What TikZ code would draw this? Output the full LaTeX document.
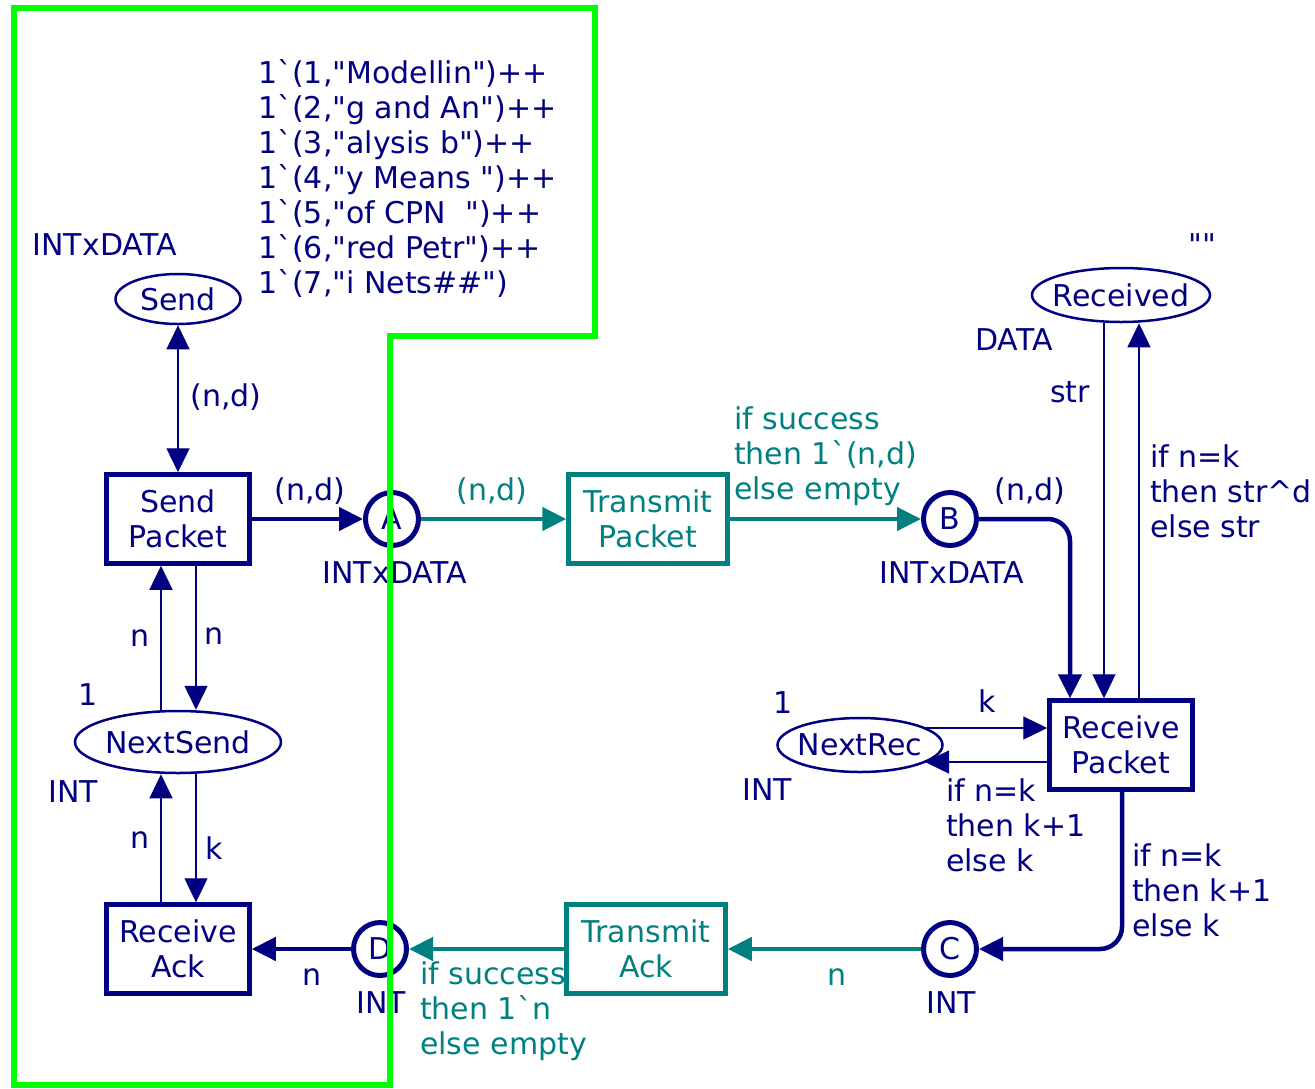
\documentclass[tikz,border=0pt]{standalone}
\usepackage{fontspec}
\setmainfont{DejaVu Sans}
\usepackage{tikz}
\usetikzlibrary{arrows.meta,positioning,calc,shapes.geometric}
\definecolor{CPNnavy}{RGB}{0,0,128}
\definecolor{CPNteal}{RGB}{0,128,128}
\definecolor{CPNgreen}{RGB}{0,255,0}
\newcommand{\cpntick}{\textasciigrave}
\newcommand{\cpnq}{\textquotedbl}

\begin{document}
\begin{tikzpicture}[
      x=1pt,y=-1pt,
      font=\fontsize{30}{35}\selectfont,
      >={Triangle[length=24pt,width=23pt]},
      place/.style={ellipse,draw=CPNnavy,line width=2.5pt,inner xsep=-6pt,inner ysep=0pt,text=CPNnavy},
      port/.style={circle,draw=CPNnavy,line width=5pt,minimum size=53pt,inner sep=0pt,text=CPNnavy},
      trans/.style={draw=CPNnavy,line width=4.5pt,minimum width=143pt,minimum height=89pt,inner sep=0pt,align=center,text=CPNnavy},
      chan/.style={trans,draw=CPNteal,text=CPNteal,minimum width=159pt},
      lbl/.style={inner sep=0pt,align=left,text=CPNnavy},
      tlbl/.style={lbl,text=CPNteal},
      arc/.style={->,draw=CPNnavy,line width=1.3pt},
      bigarc/.style={arc,line width=4.5pt},
      chanarc/.style={bigarc,draw=CPNteal}
    ]
    \useasboundingbox (0,0) rectangle (1315,1088);
    \node[place,minimum width=125pt,minimum height=50pt] (send) at (178,299) {Send};
    \node[place,minimum width=206pt,minimum height=62pt] (nextsend) at (178,742) {NextSend};
    \node[place,minimum width=178pt,minimum height=54pt] (received) at (1121,295) {Received};
    \node[place,minimum width=165pt,minimum height=54pt] (nextrec) at (860,745) {NextRec};
    \node[trans] (sendpacket) at (178,519) {Send\\Packet};
    \node[trans] (receiveack) at (178,949) {Receive\\Ack};
    \node[trans] (receivepacket) at (1121,745) {Receive\\Packet};
    \node[chan] (transmitpacket) at (648,519) {Transmit\\Packet};
    \node[chan] (transmitack) at (646,949) {Transmit\\Ack};
    \node[port] (a) at (392,519) {A};
    \node[port] (b) at (950,519) {B};
    \node[port] (c) at (950,949) {C};
    \node[port] (d) at (380,949) {D};

    \node[lbl] (sendtype) at (105,245) {INTxDATA};
    \node[lbl,anchor=west] (sendinit) at (258,178) {1\cpntick(1,\cpnq Modellin\cpnq)++\\1\cpntick(2,\cpnq g and An\cpnq)++\\1\cpntick(3,\cpnq alysis b\cpnq)++\\1\cpntick(4,\cpnq y Means\ \cpnq)++\\1\cpntick(5,\cpnq of CPN\ \ \cpnq)++\\1\cpntick(6,\cpnq red Petr\cpnq)++\\1\cpntick(7,\cpnq i Nets\#\#\cpnq)};
    \node[lbl] (nextsendinit) at (88,695) {1};
    \node[lbl] (nextsendtype) at (73,792) {INT};
    \node[lbl] (atype) at (395,573) {INTxDATA};
    \node[lbl] (btype) at (952,573) {INTxDATA};
    \node[lbl] (ctype) at (951,1003) {INT};
    \node[lbl] (dtype) at (381,1003) {INT};
    \node[lbl] (receivedinit) at (1202,245) {\cpnq\cpnq};
    \node[lbl] (receivedtype) at (1014,340) {DATA};
    \node[lbl] (nextrecinit) at (783,703) {1};
    \node[lbl] (nextrectype) at (767,790) {INT};

    \draw[arc,<->] (send) -- (sendpacket);
    \draw[arc] ($(nextsend.north)+(-17,0)$) -- ($(sendpacket.south)+(-17,0)$);
    \draw[arc] ($(sendpacket.south)+(18,0)$) -- ($(nextsend.north)+(18,0)$);
    \draw[arc] ($(receiveack.north)+(-17,0)$) -- ($(nextsend.south)+(-17,0)$);
    \draw[arc] ($(nextsend.south)+(18,0)$) -- ($(receiveack.north)+(18,0)$);
    \draw[bigarc] (sendpacket) -- (a);
    \draw[chanarc] (a) -- (transmitpacket);
    \draw[chanarc] (transmitpacket) -- (b);
    \draw[bigarc,rounded corners=22pt] (b.east) -| ($(receivepacket.north)+(-51,0)$);
    \draw[arc] ($(received.south)+(-17,0)$) -- ($(receivepacket.north)+(-17,0)$);
    \draw[arc] ($(receivepacket.north)+(18,0)$) -- ($(received.south)+(18,0)$);
    \draw[arc] ($(nextrec.center)+(65,-17)$) -- ($(receivepacket.west)+(0,-17)$);
    \draw[arc] ($(receivepacket.west)+(0,17)$) -- ($(nextrec.center)+(65,17)$);
    \draw[bigarc,rounded corners=22pt] ($(receivepacket.south)+(1,0)$) |- (c.east);
    \draw[chanarc] (c) -- (transmitack);
    \draw[chanarc] (transmitack) -- (d);
    \draw[bigarc] (d) -- (receiveack);

    \node[lbl] (sendarc) at (226,397) {(n,d)};
    \node[lbl] (nsup) at (140,638) {n};
    \node[lbl] (nsdown) at (214,636) {n};
    \node[lbl] (raup) at (140,840) {n};
    \node[lbl] (radown) at (214,848) {k};
    \node[lbl] (sparc) at (310,491) {(n,d)};
    \node[tlbl] (aarc) at (492,491) {(n,d)};
    \node[tlbl,anchor=west] (tparc) at (734,456) {if success\\then 1\cpntick(n,d)\\else empty};
    \node[lbl] (barc) at (1030,491) {(n,d)};
    \node[lbl] (strarc) at (1070,392) {str};
    \node[lbl,anchor=west] (updarc) at (1150,491) {if n=k\\then str\textasciicircum d\\else str};
    \node[lbl] (karc) at (987,701) {k};
    \node[lbl,anchor=west] (nextkarc) at (946,825) {if n=k\\then k+1\\else k};
    \node[lbl,anchor=west] (ackarc) at (1132,890) {if n=k\\then k+1\\else k};
    \node[tlbl] (carc) at (837,977) {n};
    \node[tlbl,anchor=west] (taarc) at (420,1011) {if success\\then 1\cpntick n\\else empty};
    \node[lbl] (darc) at (312,977) {n};

    \draw[CPNgreen,line width=6pt] (14,8) -- (595,8) -- (595,336) -- (390,336) -- (390,1085) -- (14,1085) -- cycle;
  \end{tikzpicture}
\end{document}
